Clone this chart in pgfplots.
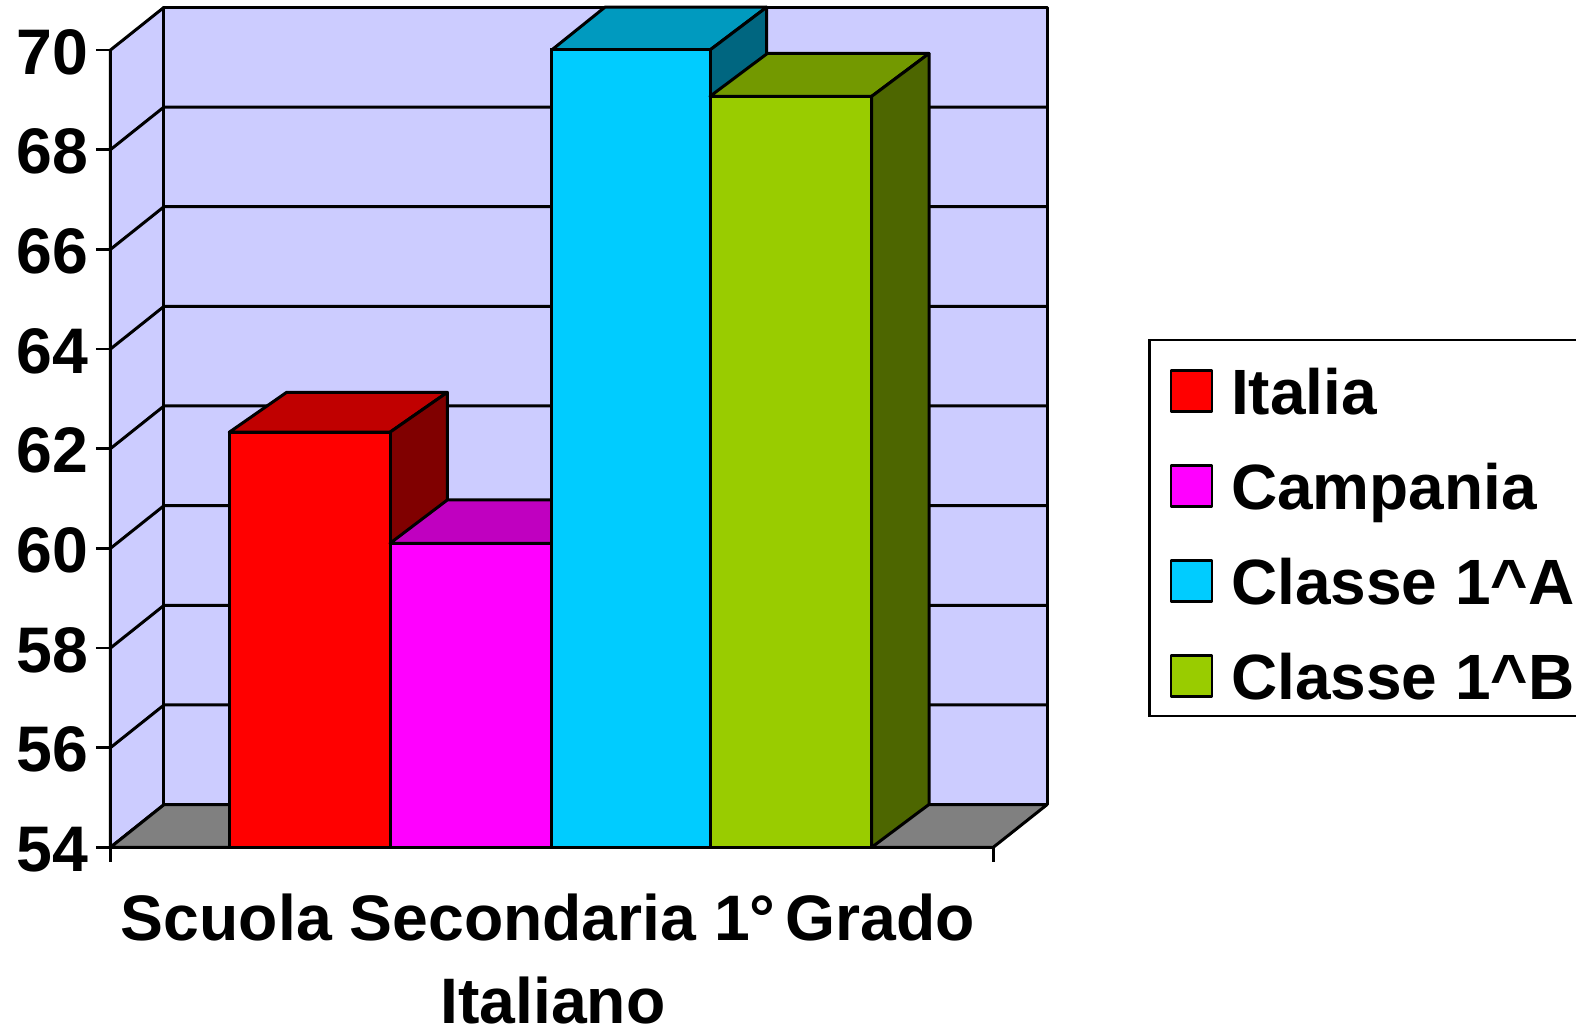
\documentclass[border=0pt]{standalone}
\usepackage{fontspec}
\setmainfont{Liberation Sans}
\usepackage{pgfplots}
\pgfplotsset{compat=1.18}
\definecolor{wall}{HTML}{CCCCFF}
\definecolor{floorc}{HTML}{808080}
\definecolor{redT}{HTML}{C00000}
\definecolor{redS}{HTML}{800000}
\definecolor{magF}{HTML}{FF00FF}
\definecolor{magT}{HTML}{C000C0}
\definecolor{cyaF}{HTML}{00CCFF}
\definecolor{cyaT}{HTML}{009ABF}
\definecolor{cyaS}{HTML}{006680}
\definecolor{greF}{HTML}{99CC00}
\definecolor{greT}{HTML}{739900}
\definecolor{greS}{HTML}{4D6600}
\pgfplotsset{
  face/.style={draw=black,line width=1.5pt,line join=round,no marks,forget plot},
  frontbar/.style={ybar,draw=black,line width=1.5pt,no marks,
    legend image code/.code={\draw[##1,line width=1.3pt,line join=round] (0pt,-13.25pt) rectangle (20.5pt,7.25pt);}},
}
\begin{document}
\begin{tikzpicture}
\path[use as bounding box] (-55.25pt,-91.35pt) rectangle (732.75pt,423.65pt);
\begin{axis}[
  scale only axis,
  width=441.4pt,height=398.65pt,
  xmin=110.5,xmax=993.3,ymin=54,ymax=70,
  clip=false,
  axis lines=left,
  axis line style={-,line width=1.5pt},
  tick style={black,line width=1.3pt},
  tick align=outside,
  major tick length=7.3pt,
  xtick={110.5,993.3},
  xticklabels={,},
  ytick={54,56,58,60,62,64,66,68,70},
  yticklabel style={font=\fontsize{32.2}{32.2}\selectfont\bfseries,/pgf/number format/assume math mode=true,inner xsep=3.7pt,yshift=-1pt},
  xlabel={Scuola Secondaria 1°\hspace{-4pt} Grado\\\hspace*{5pt}Italiano},
  xlabel style={font=\fontsize{32.15}{41.5}\selectfont\bfseries,align=center,at={(axis description cs:0.4955,0)},anchor=north,yshift=-23pt,inner sep=0pt},
  legend cell align=left,
  legend style={at={(axis cs:1148.3,64.21)},anchor=north west,draw=black,line width=1.2pt,
    font=\fontsize{32}{32}\selectfont\bfseries,
    inner xsep=10pt,inner ysep=7.5pt,row sep=17pt,column sep=9pt,
    nodes={inner sep=0pt,text height=30pt,text depth=0.5pt}},
]
% side wall, back wall, floor
\addplot[face,fill=wall] coordinates {(110.5,54) (164,54.856) (164,70.856) (110.5,70)} --cycle;
\addplot[face,fill=wall] coordinates {(164,54.856) (1047,54.856) (1047,70.856) (164,70.856)} --cycle;
\addplot[face,fill=floorc] coordinates {(110.5,54) (993.3,54) (1047,54.856) (164,54.856)} --cycle;
% grid lines
\addplot[face] coordinates {(110.5,56) (164,56.856) (1047,56.856)};
\addplot[face] coordinates {(110.5,58) (164,58.856) (1047,58.856)};
\addplot[face] coordinates {(110.5,60) (164,60.856) (1047,60.856)};
\addplot[face] coordinates {(110.5,62) (164,62.856) (1047,62.856)};
\addplot[face] coordinates {(110.5,64) (164,64.856) (1047,64.856)};
\addplot[face] coordinates {(110.5,66) (164,66.856) (1047,66.856)};
\addplot[face] coordinates {(110.5,68) (164,68.856) (1047,68.856)};
% Italia
\addplot[face,fill=redT] coordinates {(229.3,62.33) (390,62.33) (447.3,63.13) (286.6,63.13)} --cycle;
\addplot[face,fill=redS] coordinates {(390,62.33) (447.3,63.13) (447.3,54.86) (390,54)} --cycle;
\addplot[frontbar,fill=red,bar width=160.7] coordinates {(309.65,62.33)};
\addlegendentry{Italia}
% Campania
\addplot[face,fill=magT] coordinates {(390,60.1) (551.7,60.1) (608,60.97) (447.3,60.97)} --cycle;
\addplot[frontbar,fill=magF,bar width=161.7] coordinates {(470.85,60.1)};
\addlegendentry{Campania}
% Classe 1^A
\addplot[face,fill=cyaT] coordinates {(551.7,70) (710,70) (766.7,70.86) (605,70.86)} --cycle;
\addplot[face,fill=cyaS] coordinates {(710,70) (766.7,70.86) (766.7,54.86) (710,54)} --cycle;
\addplot[frontbar,fill=cyaF,bar width=158.3] coordinates {(630.85,70)};
\addlegendentry{Classe 1\textasciicircum A}
% Classe 1^B
\addplot[face,fill=greT] coordinates {(710,69.07) (871.7,69.07) (929,69.93) (767.3,69.93)} --cycle;
\addplot[face,fill=greS] coordinates {(871.7,69.07) (929,69.93) (929,54.86) (871.7,54)} --cycle;
\addplot[frontbar,fill=greF,bar width=161.7] coordinates {(790.85,69.07)};
\addlegendentry{Classe 1\textasciicircum B}
\end{axis}
\end{tikzpicture}
\end{document}
